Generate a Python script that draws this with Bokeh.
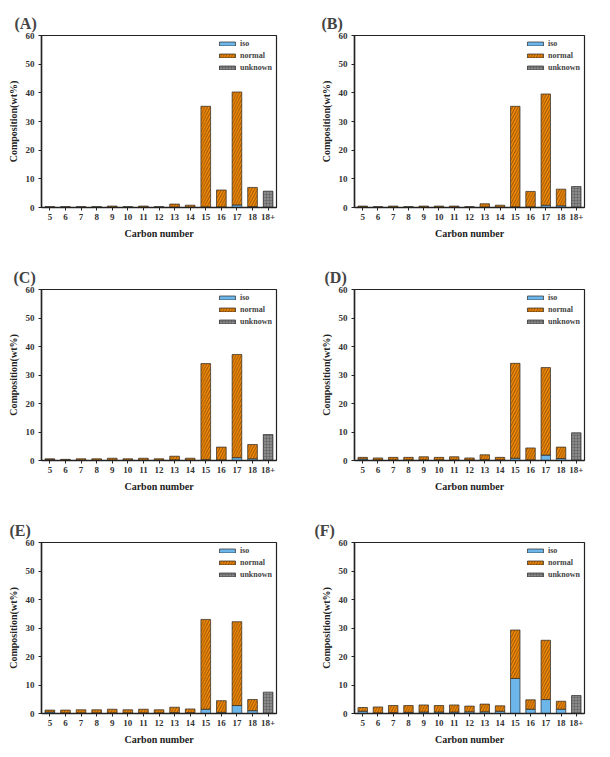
from bokeh.plotting import figure
from bokeh.layouts import gridplot
from bokeh.models import FactorRange, Range1d, Legend, LegendItem, SingleIntervalTicker
from bokeh.embed import file_html
from bokeh.resources import INLINE

carbon = ["5", "6", "7", "8", "9", "10", "11", "12", "13", "14", "15", "16", "17", "18", "18+"]

# composition (wt%) per carbon number: iso, normal, unknown
iso_a = [0.1, 0.1, 0.1, 0.1, 0.1, 0.1, 0.1, 0.1, 0.1, 0.1, 0.2, 0.2, 0.9, 0.3, 0]
normal_a = [0.2, 0.2, 0.2, 0.2, 0.4, 0.2, 0.4, 0.2, 1.1, 0.7, 35.1, 5.9, 39.4, 6.7, 0]
unknown_a = [0] * 14 + [5.7]

iso_b = [0.2, 0.1, 0.1, 0.1, 0.1, 0.1, 0.1, 0.1, 0.1, 0.1, 0.2, 0.2, 0.8, 0.6, 0]
normal_b = [0.3, 0.2, 0.4, 0.2, 0.4, 0.4, 0.4, 0.2, 1.2, 0.7, 35.1, 5.4, 38.8, 5.8, 0]
unknown_b = [0] * 14 + [7.3]

iso_c = [0.3, 0.1, 0.1, 0.1, 0.1, 0.1, 0.1, 0.1, 0.2, 0.1, 0.3, 0.2, 1.0, 0.6, 0]
normal_c = [0.3, 0.3, 0.5, 0.5, 0.7, 0.5, 0.7, 0.5, 1.3, 0.7, 33.7, 4.5, 36.2, 5.0, 0]
unknown_c = [0] * 14 + [9.1]

iso_d = [0.5, 0.2, 0.2, 0.2, 0.2, 0.2, 0.2, 0.2, 0.3, 0.2, 0.8, 0.2, 1.9, 0.7, 0]
normal_d = [0.6, 0.7, 0.9, 0.9, 1.1, 0.9, 1.1, 0.7, 1.7, 0.9, 33.3, 4.2, 30.7, 4.0, 0]
unknown_d = [0] * 14 + [9.7]

iso_e = [0.5, 0.2, 0.2, 0.2, 0.2, 0.2, 0.2, 0.2, 0.3, 0.3, 1.5, 0.4, 2.8, 1.0, 0]
normal_e = [0.7, 1.0, 1.1, 1.1, 1.3, 1.1, 1.3, 1.1, 1.9, 1.3, 31.5, 4.1, 29.4, 3.9, 0]
unknown_e = [0] * 14 + [7.5]

iso_f = [0.8, 0.2, 0.3, 0.4, 0.5, 0.5, 0.5, 0.6, 0.6, 0.8, 12.3, 1.5, 4.9, 1.5, 0]
normal_f = [1.3, 2.1, 2.5, 2.4, 2.5, 2.3, 2.5, 2.0, 2.7, 1.9, 17.0, 3.3, 20.8, 2.8, 0]
unknown_f = [0] * 14 + [6.3]

SERIF = "Liberation Serif"


def panel(letter, iso, normal, unknown, width, height, borders):
    left, right, top, bottom = borders
    p = figure(width=width, height=height, x_range=FactorRange(*carbon, range_padding=0.005),
               y_range=Range1d(0, 60), output_backend="svg", toolbar_location=None,
               min_border_left=left, min_border_right=right,
               min_border_top=top, min_border_bottom=bottom)
    p.title.text = letter
    p.title.text_font = SERIF
    p.title.text_font_size = "16px"
    p.title.text_font_style = "bold"
    p.title.align = "left"
    p.title.offset = -(left - 9)
    p.title.standoff = 8

    data = dict(carbon=carbon, iso=iso, normal=normal, unknown=unknown)
    r_iso = p.vbar(x="carbon", top="iso", bottom=0, width=0.62, source=data,
                   fill_color="#6cb6ea", line_color="#2a2a2a", line_width=0.7)
    bottom_n = list(iso)
    top_n = [a + b for a, b in zip(iso, normal)]
    r_norm = p.vbar(x=carbon, top=top_n, bottom=bottom_n, width=0.62,
                    fill_color="#f28a0a", line_color="#2a2a2a", line_width=0.7,
                    hatch_pattern="/", hatch_color="#4d2800", hatch_scale=5.5,
                    hatch_weight=0.6)
    r_unk = p.vbar(x="carbon", top="unknown", bottom=0, width=0.62, source=data,
                   fill_color="#8a8a8a", line_color="#2a2a2a", line_width=0.7,
                   hatch_pattern="+", hatch_color="#5a5a5a", hatch_scale=3,
                   hatch_weight=0.5)

    legend = Legend(items=[LegendItem(label="iso", renderers=[r_iso]),
                           LegendItem(label="normal", renderers=[r_norm]),
                           LegendItem(label="unknown", renderers=[r_unk])],
                    location="top_right", border_line_color=None,
                    background_fill_alpha=0, glyph_width=20, glyph_height=5,
                    label_height=6, label_text_font=SERIF, label_text_font_style="bold",
                    label_text_font_size="8px", label_standoff=3, spacing=3,
                    padding=2, margin=4)
    p.add_layout(legend, "center")

    p.outline_line_color = "#222222"
    p.outline_line_width = 1.2
    p.xgrid.visible = False
    p.ygrid.visible = False

    p.yaxis.ticker = SingleIntervalTicker(interval=10)
    for ax in (p.xaxis[0], p.yaxis[0]):
        ax.axis_line_color = "#222222"
        ax.axis_line_width = 1.5
        ax.major_tick_line_color = "#222222"
        ax.major_tick_in = 0
        ax.major_tick_out = 3
        ax.minor_tick_line_color = None
        ax.major_label_text_font = SERIF
        ax.major_label_text_font_style = "bold"
        ax.major_label_text_font_size = "9px"
        ax.major_label_text_color = "#333333"
        ax.axis_label_text_font = SERIF
        ax.axis_label_text_font_style = "bold"
        ax.axis_label_text_font_size = "10px"
        ax.axis_label_text_color = "#222222"
    p.xaxis.axis_label = "Carbon number"
    p.yaxis.axis_label = "Composition(wt%)"
    p.xaxis.major_label_standoff = 3
    p.yaxis.major_label_standoff = 3
    p.xaxis.axis_label_standoff = 5
    p.yaxis.axis_label_standoff = 4
    return p


pa = panel("(A)", iso_a, normal_a, unknown_a, 305, 250, (36, 29, 35, 43))
pb = panel("(B)", iso_b, normal_b, unknown_b, 305, 250, (42, 26, 35, 43))
pc = panel("(C)", iso_c, normal_c, unknown_c, 305, 250, (37, 29, 39, 40))
pd = panel("(D)", iso_d, normal_d, unknown_d, 305, 250, (39, 26, 38, 40))
pe = panel("(E)", iso_e, normal_e, unknown_e, 305, 257, (41, 27, 42, 44))
pf = panel("(F)", iso_f, normal_f, unknown_f, 305, 257, (49, 17, 42, 43))

grid = gridplot([[pa, pb], [pc, pd], [pe, pf]], toolbar_location=None)

open("out.html", "w").write(file_html(grid, INLINE))
